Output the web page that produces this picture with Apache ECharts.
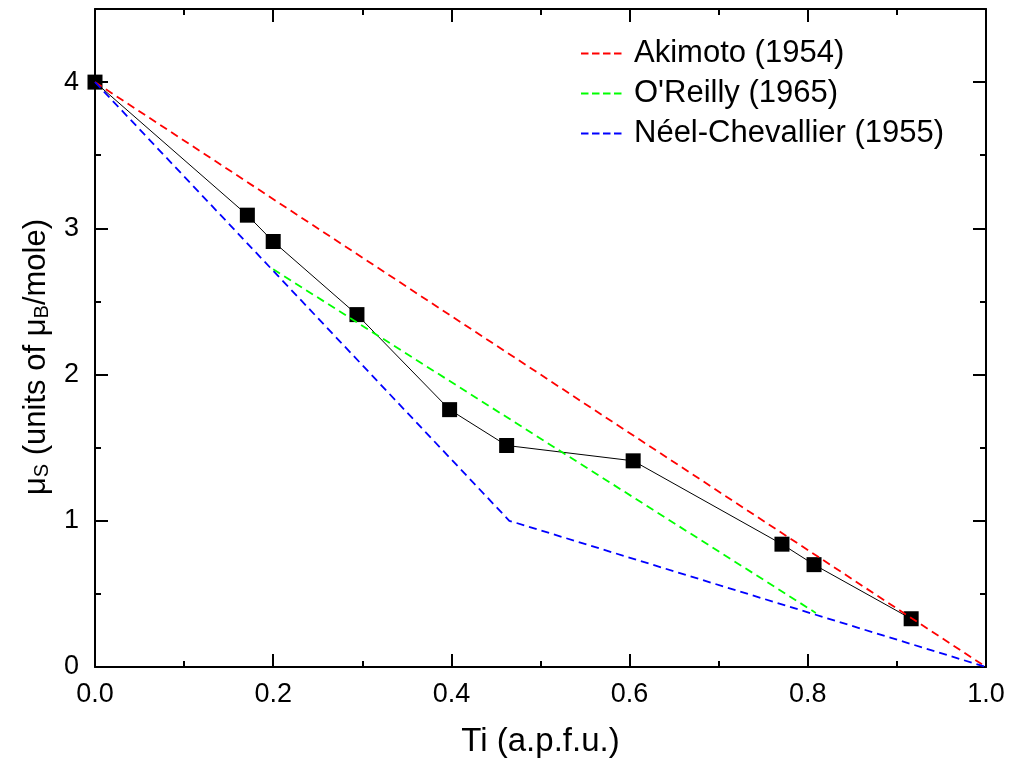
<!DOCTYPE html>
<html>
<head>
<meta charset="utf-8">
<script src="https://cdn.jsdelivr.net/npm/echarts@6/dist/echarts.min.js"></script>
<style>html,body{margin:0;padding:0;background:#fff;}#c{width:1017px;height:769px;}</style>
</head>
<body>
<div id="c"></div>
<script>
// Measured data (black squares)
const tiData = [0.0, 0.171, 0.200, 0.294, 0.398, 0.462, 0.604, 0.771, 0.807, 0.916];
const muData = [4.00, 3.09, 2.91, 2.41, 1.76, 1.515, 1.41, 0.84, 0.70, 0.33];
// Model curves
const akimotoX = [0, 1];
const akimotoY = [4, 0];
const oreillyX = [0.2, 0.809];
const oreillyY = [2.72, 0.37];
const neelX = [0, 0.465, 1];
const neelY = [4, 1.0, 0];
const xTicks = ['0.0','0.2','0.4','0.6','0.8','1.0'];
const yTicks = ['0','1','2','3','4'];
const legendNames = ['Akimoto (1954)', "O'Reilly (1965)", 'Néel-Chevallier (1955)'];

const zip = (xs, ys) => xs.map((x, i) => [x, ys[i]]);
const FONT = 'Liberation Sans, Arial, sans-serif';

function xAxisDef(pos, interval, len, showLabel, showLine) {
  return {
    type: 'value', position: pos, min: 0, max: 1, interval: interval,
    axisLine: { show: showLine, onZero: false, lineStyle: { color: '#000', width: 2 } },
    axisTick: { show: true, inside: true, length: len, lineStyle: { color: '#000', width: 2 } },
    axisLabel: showLabel ? {
      show: true, margin: 14, fontSize: 27, color: '#000', fontFamily: FONT,
      formatter: v => { const i = Math.round(v / 0.2); return Math.abs(v - i * 0.2) < 1e-6 ? xTicks[i] : ''; }
    } : { show: false },
    splitLine: { show: false },
    name: showLabel ? 'Ti (a.p.f.u.)' : '',
    nameLocation: 'middle', nameGap: 58,
    nameTextStyle: { fontSize: 33, color: '#000', fontFamily: FONT }
  };
}
function yAxisDef(pos, interval, len, showLabel, showLine) {
  return {
    type: 'value', position: pos, min: 0, max: 4.5, interval: interval,
    axisLine: { show: showLine, onZero: false, lineStyle: { color: '#000', width: 2 } },
    axisTick: { show: true, inside: true, length: len, lineStyle: { color: '#000', width: 2 } },
    axisLabel: showLabel ? {
      show: true, margin: 16, fontSize: 27, color: '#000', fontFamily: FONT,
      formatter: v => { const i = Math.round(v); return Math.abs(v - i) < 1e-6 && yTicks[i] !== undefined ? yTicks[i] : ''; }
    } : { show: false },
    splitLine: { show: false }
  };
}

const chart = echarts.init(document.getElementById('c'), null, { renderer: 'canvas' });
const dashed = [8, 5];
chart.setOption({
  animation: false,
  backgroundColor: '#fff',
  grid: { left: 95, right: 31, top: 9, bottom: 102 },
  xAxis: [
    xAxisDef('bottom', 0.2, 13, true, true),
    xAxisDef('bottom', 0.1, 6, false, false),
    xAxisDef('top', 0.2, 13, false, true),
    xAxisDef('top', 0.1, 6, false, false)
  ],
  yAxis: [
    yAxisDef('left', 1, 13, true, true),
    yAxisDef('left', 0.5, 6, false, false),
    yAxisDef('right', 1, 13, false, true),
    yAxisDef('right', 0.5, 6, false, false)
  ],
  legend: {
    data: legendNames,
    orient: 'vertical', left: 575, top: 31,
    itemWidth: 42, itemHeight: 14, itemGap: 5,
    textStyle: { fontSize: 31, color: '#000', fontFamily: FONT, lineHeight: 35, padding: [0, 0, 0, 6] },
    lineStyle: { type: [7.5, 3.5], width: 2 },
    itemStyle: { color: 'rgba(0,0,0,0)', borderWidth: 0, opacity: 0 }
  },
  graphic: [{
    type: 'text', x: 34, y: 357, rotation: Math.PI / 2,
    style: {
      text: '{a|μ}{s|S}{a| (units of μ}{s|B}{a|/mole)}',
      align: 'center', verticalAlign: 'middle',
      rich: {
        a: { fontSize: 31, fontFamily: FONT, fill: '#000', lineHeight: 36, verticalAlign: 'bottom' },
        s: { fontSize: 20, fontFamily: FONT, fill: '#000', lineHeight: 36, verticalAlign: 'bottom', padding: [14, 0, 0, 0] }
      }
    }
  }],
  series: [
    {
      name: 'data', type: 'line', data: zip(tiData, muData),
      symbol: 'rect', symbolSize: 15, showSymbol: true,
      itemStyle: { color: '#000' },
      lineStyle: { color: '#000', width: 1 },
      z: 2
    },
    {
      name: legendNames[0], type: 'line', data: zip(akimotoX, akimotoY),
      symbol: 'none', lineStyle: { color: '#ff0000', width: 1.8, type: dashed }, itemStyle: { color: '#ff0000' }, z: 3
    },
    {
      name: legendNames[1], type: 'line', data: zip(oreillyX, oreillyY),
      symbol: 'none', lineStyle: { color: '#00ff00', width: 1.8, type: dashed }, itemStyle: { color: '#00ff00' }, z: 3
    },
    {
      name: legendNames[2], type: 'line', data: zip(neelX, neelY),
      symbol: 'none', lineStyle: { color: '#0000ff', width: 1.8, type: dashed }, itemStyle: { color: '#0000ff' }, z: 3
    }
  ]
});
</script>
</body>
</html>
